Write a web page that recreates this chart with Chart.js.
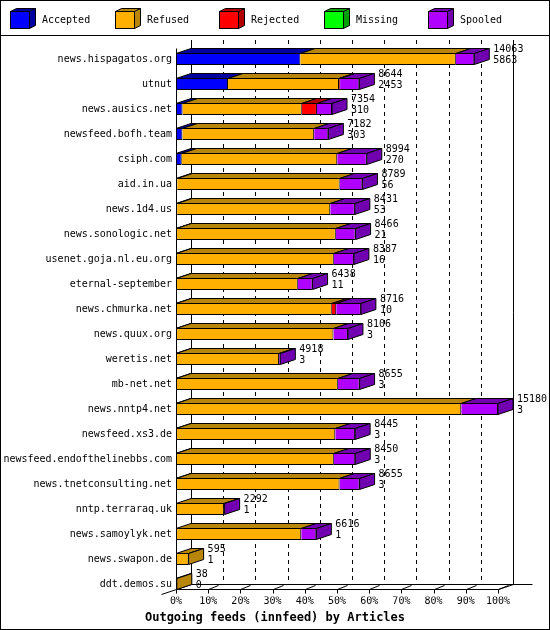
<!DOCTYPE html>
<html>
<head>
<meta charset="utf-8">
<title>Outgoing feeds (innfeed) by Articles</title>
<script src="https://cdn.jsdelivr.net/npm/chart.js@4.4.1/dist/chart.umd.min.js"></script>
<style>
  html, body { margin: 0; padding: 0; background: #fff; }
  canvas { display: block; }
</style>
</head>
<body>
<canvas id="chart" width="550" height="630"></canvas>
<script>
// Data
const categories = [
  "news.hispagatos.org", "utnut", "news.ausics.net", "newsfeed.bofh.team",
  "csiph.com", "aid.in.ua", "news.1d4.us", "news.sonologic.net",
  "usenet.goja.nl.eu.org", "eternal-september", "news.chmurka.net",
  "news.quux.org", "weretis.net", "mb-net.net", "news.nntp4.net",
  "newsfeed.xs3.de", "newsfeed.endofthelinebbs.com", "news.tnetconsulting.net",
  "nntp.terraraq.uk", "news.samoylyk.net", "news.swapon.de", "ddt.demos.su"
];
const totals   = [14063, 8644, 7354, 7182, 8994, 8789, 8431, 8466, 8387, 6438, 8716, 8106, 4918, 8655, 15180, 8445, 8450, 8655, 2292, 6616, 595, 38];
const accepted = [5863, 2453, 310, 303, 270, 56, 53, 21, 16, 11, 10, 3, 3, 3, 3, 3, 3, 3, 1, 1, 1, 0];
const refused  = [7330, 5231, 5620, 6210, 7330, 7660, 7218, 7514, 7425, 5732, 7335, 7419, 4855, 7627, 13444, 7505, 7439, 7707, 2266, 5902, 594, 38];
const rejected = [0, 50, 715, 0, 0, 0, 0, 0, 0, 0, 207, 0, 0, 0, 0, 0, 0, 0, 0, 0, 0, 0];
const missing  = [0, 0, 0, 0, 0, 0, 0, 0, 0, 0, 0, 0, 0, 0, 0, 0, 0, 0, 0, 0, 0, 0];
const spooled  = [870, 910, 709, 669, 1394, 1073, 1160, 931, 946, 695, 1164, 684, 60, 1025, 1733, 937, 1008, 945, 25, 713, 0, 0];

const seriesNames = ["Accepted", "Refused", "Rejected", "Missing", "Spooled"];
const tickLabels = ["0%", "10%", "20%", "30%", "40%", "50%", "60%", "70%", "80%", "90%", "100%"];
const titleText = "Outgoing feeds (innfeed) by Articles";

// styles
const frontColors = ["#0000ff", "#ffb000", "#ff0000", "#00ff00", "#b000ff"];
const shadeColors = ["#0000a0", "#b8860b", "#b00000", "#00a000", "#7000b0"];
const FONT = '"DejaVu Sans Mono", monospace';
const BAR = 12, DX = 15, DY = 5;

Chart.defaults.font.family = FONT;
Chart.defaults.font.size = 10;
Chart.defaults.color = "#000";

const seriesValues = [accepted, refused, rejected, missing, spooled];

// draws the back wall, floor, top/side faces, value labels and the legend
const box3d = {
  id: "box3d",
  beforeDatasetsDraw(chart) {
    const { ctx, chartArea, scales: { x, y } } = chart;
    const yFront = Math.round(y.getPixelForValue(categories.length - 1) + BAR / 2) - 0.5;
    const yBack = yFront - DY;
    const wallTop = chartArea.top - 6.5;
    const last = x.ticks.length - 1;
    ctx.save();
    ctx.lineWidth = 1;
    ctx.strokeStyle = "#000";
    x.ticks.forEach((t, i) => {
      const xb = Math.round(x.getPixelForValue(t.value) + DX) + 0.5;
      ctx.setLineDash(i === 0 || i === last ? [] : [4, 4]);
      ctx.beginPath();
      ctx.moveTo(xb, wallTop);
      ctx.lineTo(xb, yBack);
      ctx.stroke();
    });
    ctx.setLineDash([]);
    const x0 = Math.round(x.getPixelForValue(0)) + 0.5;
    const x1 = Math.round(x.getPixelForValue(x.max)) + 0.5;
    ctx.beginPath();
    ctx.moveTo(x0 + DX, yBack);
    ctx.lineTo(x1 + DX + 19, yBack);
    ctx.moveTo(x0 - DX, yFront + DY);
    ctx.lineTo(x0 + DX, yBack);
    ctx.moveTo(x0, yFront);
    ctx.lineTo(x1, yFront);
    ctx.lineTo(x1 + DX, yBack);
    ctx.stroke();
    x.ticks.forEach((t) => {
      const xf = Math.round(x.getPixelForValue(t.value)) + 0.5;
      ctx.beginPath();
      ctx.moveTo(xf, yFront);
      ctx.lineTo(xf, yFront + 4);
      ctx.moveTo(xf, yFront);
      ctx.lineTo(xf + 10, yBack + 1);
      ctx.stroke();
    });
    ctx.restore();
  },
  afterDatasetsDraw(chart) {
    const { ctx, chartArea, scales: { x, y } } = chart;
    const metas = chart.data.datasets.map((d, i) => chart.getDatasetMeta(i));
    ctx.save();
    ctx.lineWidth = 1;
    ctx.strokeStyle = "#000";
    categories.forEach((c, i) => {
      const segs = [];
      metas.forEach((m, d) => {
        const p = m.data[i].getProps(["x", "base", "y"], true);
        if (Math.abs(p.x - p.base) > 0.05) {
          segs.push({ d, a: Math.min(p.x, p.base), b: Math.max(p.x, p.base), y: p.y });
        }
      });
      if (!segs.length) return;
      const cy = segs[0].y;
      const t = Math.round(cy - BAR / 2) + 0.5;
      const b = t + BAR - 1;
      segs.forEach((s) => {
        ctx.beginPath();
        ctx.moveTo(s.a, t);
        ctx.lineTo(s.a + DX, t - DY);
        ctx.lineTo(s.b + DX, t - DY);
        ctx.lineTo(s.b, t);
        ctx.closePath();
        ctx.fillStyle = shadeColors[s.d];
        ctx.fill();
        ctx.stroke();
      });
      const s = segs[segs.length - 1];
      ctx.beginPath();
      ctx.moveTo(s.b, t);
      ctx.lineTo(s.b + DX, t - DY);
      ctx.lineTo(s.b + DX, b - DY);
      ctx.lineTo(s.b, b);
      ctx.closePath();
      ctx.fillStyle = shadeColors[s.d];
      ctx.fill();
      ctx.stroke();

      ctx.fillStyle = "#000";
      ctx.font = "10px " + FONT;
      ctx.textAlign = "left";
      ctx.textBaseline = "middle";
      ctx.fillText(String(totals[i]), s.b + DX + 4, cy - 9.5);
      ctx.fillText(String(accepted[i]), s.b + DX + 4, cy + 1.5);
    });
    // front left axis
    const yFront = Math.round(y.getPixelForValue(categories.length - 1) + BAR / 2) - 0.5;
    const x0 = Math.round(x.getPixelForValue(0)) + 0.5;
    ctx.beginPath();
    ctx.moveTo(x0, chartArea.top + 2);
    ctx.lineTo(x0, yFront);
    ctx.stroke();
    ctx.restore();
  },
  afterDraw(chart) {
    const { ctx, width, height } = chart;
    ctx.save();
    ctx.lineWidth = 1;
    ctx.strokeStyle = "#000";
    ctx.strokeRect(0.5, 0.5, width - 1, height - 1);
    ctx.beginPath();
    ctx.moveTo(0, 35.5);
    ctx.lineTo(width, 35.5);
    ctx.stroke();

    // legend with little cubes
    const w = 19, h = 17, dx = 6, dy = 3;
    chart.data.datasets.forEach((ds, i) => {
      const bx = Math.round(10 + i * 104.5) + 0.5, by = 11.5;
      ctx.fillStyle = shadeColors[i];
      ctx.beginPath();
      ctx.moveTo(bx, by);
      ctx.lineTo(bx + dx, by - dy);
      ctx.lineTo(bx + w + dx, by - dy);
      ctx.lineTo(bx + w + dx, by + h - dy);
      ctx.lineTo(bx + w, by + h);
      ctx.lineTo(bx + w, by);
      ctx.closePath();
      ctx.fill();
      ctx.stroke();
      ctx.beginPath();
      ctx.moveTo(bx + w, by);
      ctx.lineTo(bx + w + dx, by - dy);
      ctx.stroke();
      ctx.fillStyle = frontColors[i];
      ctx.fillRect(bx, by, w, h);
      ctx.strokeRect(bx, by, w, h);
      ctx.fillStyle = "#000";
      ctx.font = "10px " + FONT;
      ctx.textAlign = "left";
      ctx.textBaseline = "middle";
      ctx.fillText(ds.label, bx + 31.5, 20);
    });
    ctx.restore();
  }
};

new Chart(document.getElementById("chart").getContext("2d"), {
  type: "bar",
  data: {
    labels: categories,
    datasets: seriesNames.map((name, i) => ({
      label: name,
      data: seriesValues[i],
      backgroundColor: frontColors[i],
      borderColor: "#000",
      borderWidth: 1,
      borderSkipped: "start",
      inflateAmount: 0,
      barThickness: BAR
    }))
  },
  options: {
    indexAxis: "y",
    responsive: false,
    animation: false,
    events: [],
    layout: { padding: { top: 46.5, right: 0, bottom: 0, left: 0 } },
    scales: {
      x: {
        stacked: true,
        min: 0,
        max: Math.max(...totals),
        grid: { display: false, drawTicks: false },
        border: { display: false },
        ticks: {
          stepSize: Math.max(...totals) / 10,
          autoSkip: false,
          maxRotation: 0,
          padding: -1,
          callback: (v, i) => tickLabels[i]
        }
      },
      y: {
        stacked: true,
        grid: { display: false, drawTicks: false },
        border: { display: false },
        ticks: { padding: 4, autoSkip: false },
        afterFit: (s) => { s.width = 176; }
      },
      yRight: {
        type: "category",
        position: "right",
        grid: { display: false, drawTicks: false },
        border: { display: false },
        ticks: { display: false },
        afterFit: (s) => { s.width = 52; }
      }
    },
    plugins: {
      legend: { display: false },
      tooltip: { enabled: false },
      title: {
        display: true,
        position: "bottom",
        text: titleText,
        color: "#000",
        font: { family: FONT, size: 12, weight: "bold" },
        padding: { top: 3.8, bottom: 5.3 }
      }
    }
  },
  plugins: [box3d]
});
</script>
</body>
</html>
